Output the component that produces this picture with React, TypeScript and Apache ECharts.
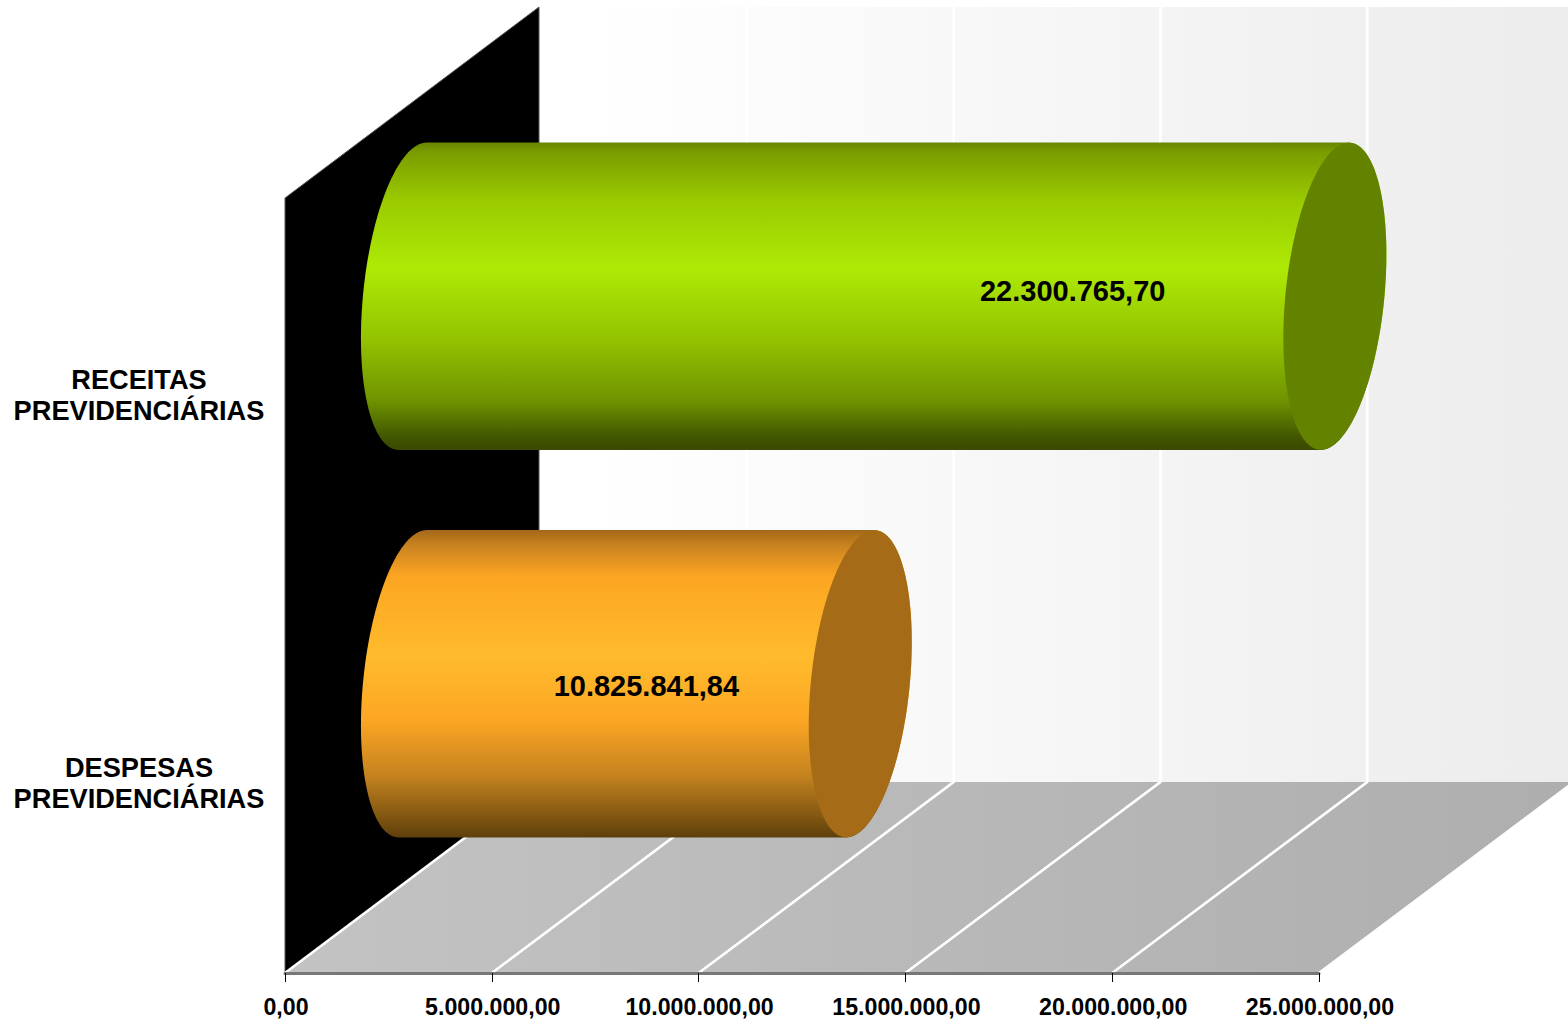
import React, { useEffect, useRef } from "react";
import * as echarts from "echarts";

const categories = ["RECEITAS\nPREVIDENCIÁRIAS", "DESPESAS\nPREVIDENCIÁRIAS"];
const values = [22300765.7, 10825841.84];
const valueLabels = ["22.300.765,70", "10.825.841,84"];
const tickValues = [0, 5000000, 10000000, 15000000, 20000000, 25000000];
const capColors = ["#638300", "#a56b17"];
const bodyStops = [
  [
    [0, "#6a8600"], [0.03, "#7a9c00"], [0.19, "#9acb00"], [0.41, "#aeea06"],
    [0.64, "#93c300"], [0.84, "#6f9300"], [0.96, "#415500"], [1, "#3a4a00"],
  ],
  [
    [0, "#a4681a"], [0.05, "#c98320"], [0.15, "#fca522"], [0.41, "#ffbb2c"],
    [0.62, "#fca624"], [0.8, "#c4821f"], [0.95, "#78510f"], [1, "#5e3f0d"],
  ],
];
const labelShift = [199, 10];
const labelRise = [5, -2];

const DX = 255;
const DY = 191;
const BAND = 0.793;
const SLANT = 14;
const RADIUS_X = 49.6;

function fmtBR(v: number) {
  return v.toLocaleString("de-DE", { minimumFractionDigits: 2, maximumFractionDigits: 2 });
}

function ellipseArc(cx: number, cy: number, ry: number, from: number, to: number) {
  const pts: number[][] = [];
  const n = 90;
  for (let i = 0; i <= n; i++) {
    const t = from + ((to - from) * i) / n;
    pts.push([cx + RADIUS_X * Math.cos(t) - SLANT * Math.sin(t), cy + ry * Math.sin(t)]);
  }
  return pts;
}

export default function App() {
  const ref = useRef<HTMLDivElement>(null);
  useEffect(() => {
    const chart = echarts.init(ref.current!, null, { renderer: "svg" });
    const gradient = (stops: (number | string)[][]) =>
      new echarts.graphic.LinearGradient(
        0, 0, 0, 1,
        stops.map((s) => ({ offset: s[0] as number, color: s[1] as string }))
      );
    chart.setOption({
      animation: false,
      backgroundColor: "#ffffff",
      grid: { left: 285, top: 198, width: 1034, height: 775, containLabel: false },
      xAxis: {
        type: "value",
        min: 0,
        max: 25000000,
        interval: 5000000,
        z: 10,
        splitLine: { show: false },
        axisLine: { show: true, lineStyle: { color: "#777777", width: 3 } },
        axisTick: { show: true, length: 9, lineStyle: { color: "#000000", width: 1 } },
        axisLabel: {
          margin: 22,
          padding: [0, 0, 0, 2],
          formatter: (v: number) => fmtBR(v),
          color: "#000000",
          fontFamily: "Liberation Sans",
          fontWeight: "bold",
          fontSize: 23.2,
        },
      },
      yAxis: {
        type: "category",
        inverse: true,
        data: categories,
        axisLine: { show: false },
        axisTick: { show: false },
        splitLine: { show: false },
        axisLabel: {
          margin: 146,
          align: "center",
          formatter: (v: string) =>
            "{gap| }\n" + v.split("\n").map((line) => `{t|${line}}`).join("\n"),
          rich: {
            gap: { height: 7, lineHeight: 7, fontSize: 5 },
            t: {
              color: "#000000",
              fontFamily: "Liberation Sans",
              fontWeight: "bold",
              fontSize: 27.2,
              lineHeight: 31,
              align: "center",
            },
          },
        },
      },
      series: [
        {
          type: "custom",
          name: "walls",
          silent: true,
          data: [[0, 0]],
          encode: { x: 0, y: 1 },
          renderItem: (params: any) => {
            const { x, y, width, height } = params.coordSys;
            const b = y + height;
            return {
              type: "group",
              children: [
                {
                  type: "polygon",
                  shape: { points: [[x + DX, y - DY], [x + width + DX, y - DY], [x + width + DX, b - DY], [x + DX, b - DY]] },
                  style: {
                    fill: new echarts.graphic.LinearGradient(0, 0, 1, 0, [
                      { offset: 0, color: "#ffffff" },
                      { offset: 0.05, color: "#ffffff" },
                      { offset: 1, color: "#ececec" },
                    ]),
                  },
                },
                {
                  type: "polygon",
                  shape: { points: [[x, b], [x + DX, b - DY], [x + width + DX, b - DY], [x + width, b]] },
                  style: {
                    fill: new echarts.graphic.LinearGradient(0, 0, 1, 0, [
                      { offset: 0, color: "#c3c3c3" },
                      { offset: 1, color: "#aeaeae" },
                    ]),
                  },
                },
                {
                  type: "polygon",
                  shape: { points: [[x, y], [x + DX - 1, y - DY], [x + DX - 1, b - DY], [x, b]] },
                  style: { fill: "#000000", stroke: "#555555", lineWidth: 1 },
                },
              ],
            };
          },
        },
        {
          type: "custom",
          name: "gridlines",
          silent: true,
          data: tickValues.map((v) => [v, 0]),
          encode: { x: 0, y: 1 },
          renderItem: (params: any, api: any) => {
            const px = api.coord([api.value(0), 0])[0];
            const { y, height } = params.coordSys;
            const b = y + height;
            const style = { stroke: "#ffffff", lineWidth: 2.6, fill: "none" };
            const onBlackWall = api.value(0) === 0;
            return {
              type: "polyline",
              shape: {
                points: onBlackWall
                  ? [[px, b], [px + DX - 1, b - DY]]
                  : [[px, b], [px + DX, b - DY], [px + DX, y - DY]],
              },
              style,
            };
          },
        },
        {
          type: "custom",
          name: "values",
          silent: true,
          data: values.map((v, i) => [v, i]),
          encode: { x: 0, y: 1 },
          renderItem: (params: any, api: any) => {
            const i = api.value(1);
            const end = api.coord([api.value(0), i]);
            const start = api.coord([0, i]);
            const ry = (api.size([0, 1])[1] * BAND) / 2;
            const cy = end[1] - DY / 2;
            const x0 = start[0] + DX / 2;
            const x1 = end[0] + DX / 2;
            const body = [
              ...ellipseArc(x0, cy, ry, (3 * Math.PI) / 2, Math.PI / 2),
              ...ellipseArc(x1, cy, ry, Math.PI / 2, -Math.PI / 2),
            ];
            return {
              type: "group",
              children: [
                { type: "polygon", shape: { points: body }, style: { fill: gradient(bodyStops[i]) } },
                {
                  type: "polygon",
                  shape: { points: ellipseArc(x1, cy, ry, 0, 2 * Math.PI) },
                  style: { fill: capColors[i] },
                },
                {
                  type: "text",
                  style: {
                    text: valueLabels[i],
                    x: (x0 + x1) / 2 + labelShift[i],
                    y: cy - labelRise[i],
                    align: "center",
                    verticalAlign: "middle",
                    fill: "#000000",
                    font: "bold 29px 'Liberation Sans'",
                  },
                },
              ],
            };
          },
        },
      ],
    });
    return () => chart.dispose();
  }, []);
  return (
    <div
      ref={ref}
      style={{ position: "absolute", left: 0, top: 0, width: 1568, height: 1022 }}
    />
  );
}
